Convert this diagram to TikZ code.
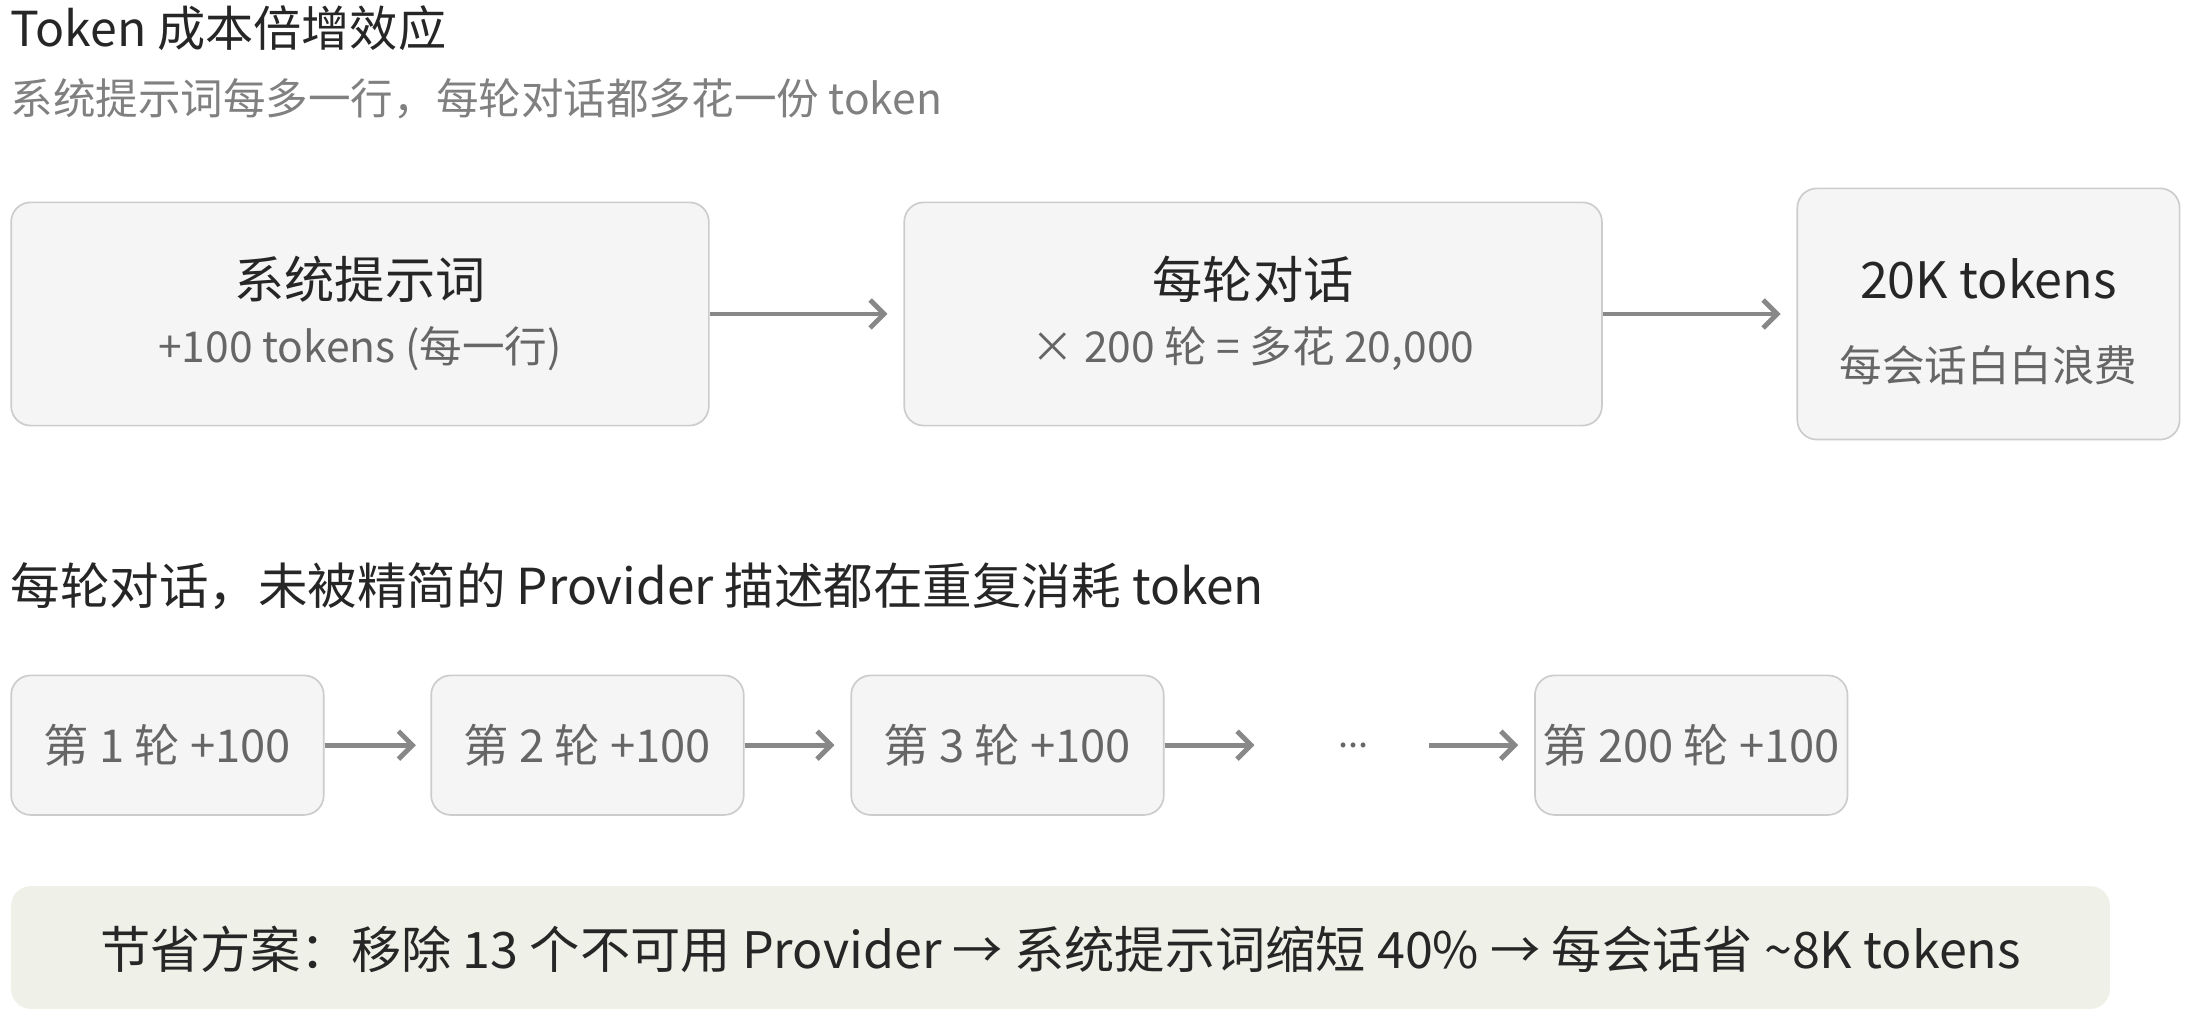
\documentclass[tikz,border=0pt]{standalone}
\usepackage{fontspec}
\setmainfont{Noto Sans CJK SC}
\usetikzlibrary{arrows.meta}
\usepackage{xcolor}
\definecolor{boxfill}{HTML}{F5F5F5}
\definecolor{boxline}{HTML}{CCCCCC}
\definecolor{arrowgray}{HTML}{888888}
\definecolor{subgray}{HTML}{666666}
\definecolor{bannerfill}{HTML}{EFF1E8}

\begin{document}
\begin{tikzpicture}[x=1pt, y=-1pt]
        % ================= 样式 =================
        \tikzset{
            % 大框
            bigbox/.style={draw=boxline, line width=1.2pt, fill=boxfill, rounded corners=14pt},
            % 小框
            smallbox/.style={draw=boxline, line width=1.2pt, fill=boxfill, rounded corners=14pt, minimum width=224pt, minimum height=100pt, font=\fontsize{32.5}{38}\selectfont, text=subgray, inner sep=0pt},
            % 主文字与副文字
            mainlbl/.style={font=\fontsize{36}{42}\selectfont, text=black!85},
            sublbl/.style={font=\fontsize{30.5}{36}\selectfont, text=subgray},
            % 箭头
            flow/.style={-{Straight Barb[length=10pt, width=20pt, line width=3.5pt]}, line width=3.5pt, arrowgray}
        }
        \useasboundingbox (0,0) rectangle (1568,729);

        % ================= 标题 =================
        \node[anchor=west, font=\fontsize{34.5}{40}\selectfont, text=black!85] (title) at (4,20) {Token 成本倍增效应};
        \node[anchor=west, font=\fontsize{30.5}{36}\selectfont, text=black!50] (subtitle) at (4,71) {系统提示词每多一行，每轮对话都多花一份 token};

        % ================= 第一行大框 =================
        \node[bigbox, minimum width=500pt, minimum height=160pt] (sys) at (258,225) {};
        \node[mainlbl] at (258,200) {系统提示词};
        \node[sublbl] at (258,250) {+100 tokens (每一行)};

        \node[bigbox, minimum width=500pt, minimum height=160pt] (round) at (898,225) {};
        \node[mainlbl] at (898,200) {每轮对话};
        \node[sublbl] at (898,250) {× 200 轮 = 多花 20,000};

        \node[bigbox, minimum width=274pt, minimum height=180pt] (waste) at (1425,225) {};
        \node[mainlbl] at (1425,200) {20K tokens};
        \node[sublbl] at (1425,262) {每会话白白浪费};

        \draw[flow] (sys.east) -- (636,225);
        \draw[flow] (round.east) -- (1276,225);

        % ================= 第二部分 =================
        \node[anchor=west, font=\fontsize{35.5}{42}\selectfont, text=black!85] (head) at (4,420) {每轮对话，未被精简的 Provider 描述都在重复消耗 token};

        \node[smallbox] (r1) at (120,534) {第 1 轮 +100};
        \node[smallbox] (r2) at (421,534) {第 2 轮 +100};
        \node[smallbox] (r3) at (722,534) {第 3 轮 +100};
        \node[font=\fontsize{26}{30}\selectfont, text=subgray] (dots) at (970,534) {...};
        \node[smallbox] (r200) at (1212,534) {第 200 轮 +100};

        \draw[flow] (r1.east) -- (298,534);
        \draw[flow] (r2.east) -- (598,534);
        \draw[flow] (r3.east) -- (899,534);
        \draw[flow] (1024,534) -- (1088,534);

        % ================= 底部方案 =================
        \node[fill=bannerfill, rounded corners=14pt, minimum width=1504pt, minimum height=88pt] (plan) at (760,679) {};
        \node[font=\fontsize{36}{42}\selectfont, text=black!85] at (760,680) {节省方案：移除 13 个不可用 Provider → 系统提示词缩短 40\% → 每会话省 \textasciitilde8K tokens};
\end{tikzpicture}
\end{document}
